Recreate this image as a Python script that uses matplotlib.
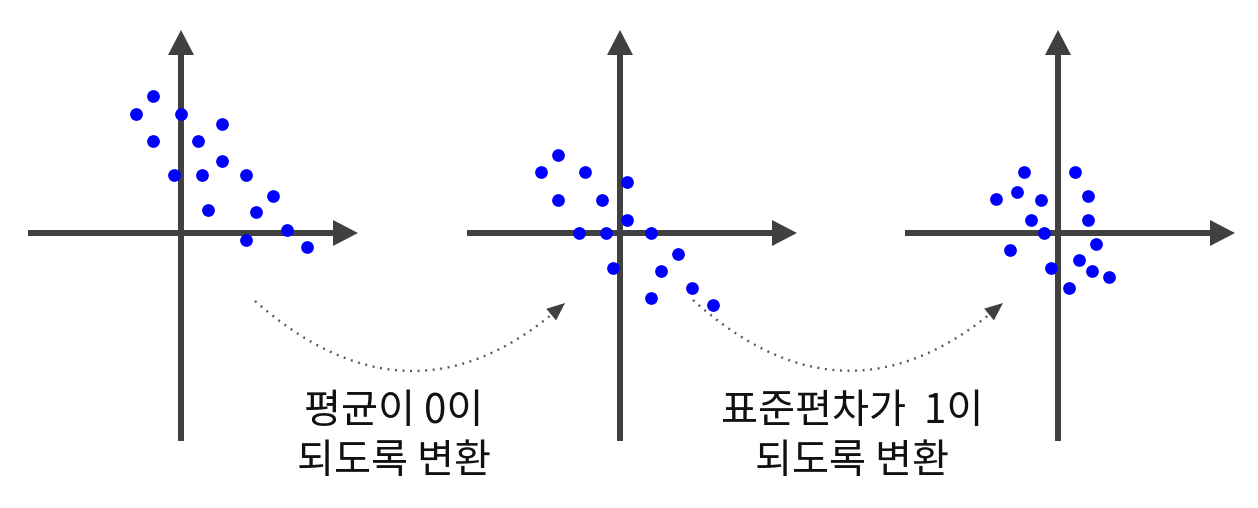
import numpy as np
import matplotlib.pyplot as plt

plt.rcParams['font.family'] = ['Noto Sans CJK KR', 'DejaVu Sans']

# 원본 데이터 (원점 기준 좌표, 1 단위 = 10px)
x_raw = [-2.8, -4.5, 0.0, 4.1, -2.8, 1.7, 4.1, -0.7, 2.1, 6.5, 9.2, 2.7, 7.5, 10.6, 6.5, 12.6]
y_raw = [13.7, 11.9, 11.9, 10.9, 9.2, 9.2, 7.2, 5.8, 5.8, 5.8, 3.7, 2.3, 2.1, 0.3, -0.7, -1.4]

# 평균이 0이 되도록 변환한 데이터
x_center = [-6.2, -7.9, -3.5, 0.7, -6.2, -1.8, 0.7, -4.1, -1.4, 3.1, 5.8, -0.7, 4.1, 7.2, 3.1, 9.3]
y_center = [7.8, 6.1, 6.1, 5.1, 3.3, 3.3, 1.3, 0.0, 0.0, 0.0, -2.1, -3.5, -3.8, -5.5, -6.5, -7.2]

# 표준편차가 1이 되도록 변환한 데이터
x_std = [-3.4, 1.7, -4.1, -6.2, -1.7, 3.0, -2.7, 3.0, -1.4, 3.8, -4.8, 2.1, -0.7, 3.4, 5.1, 1.1]
y_std = [6.1, 6.1, 4.1, 3.4, 3.3, 3.7, 1.3, 1.3, 0.0, -1.1, -1.7, -2.7, -3.5, -3.8, -4.4, -5.5]

labels = [['평균이 0이', '되도록 변환'], ['표준편차가  1이', '되도록 변환']]

W, H = 1258, 508
axis_color = '#404040'
fig = plt.figure(figsize=(W / 100, H / 100), dpi=100)

origins = [(181, 233), (620, 233), (1058, 233)]
datasets = [(x_raw, y_raw), (x_center, y_center), (x_std, y_std)]

for (ox, oy), (xs, ys) in zip(origins, datasets):
    left, right, top, bottom = ox - 160, ox + 190, 15, 455
    ax = fig.add_axes([left / W, 1 - bottom / H, (right - left) / W, (bottom - top) / H])
    ax.set_xlim((left - ox) / 10, (right - ox) / 10)
    ax.set_ylim((oy - bottom) / 10, (oy - top) / 10)
    ax.axis('off')
    # 좌표축
    ax.arrow(-15.3, 0, 33.0, 0, width=0.6, head_width=2.6, head_length=2.5,
             length_includes_head=True, color=axis_color, lw=0)
    ax.arrow(0, -20.8, 0, 41.1, width=0.6, head_width=2.6, head_length=2.5,
             length_includes_head=True, color=axis_color, lw=0)
    ax.scatter(xs, ys, s=84, color='#0000ff', zorder=3, linewidths=0)

# 점선 화살표와 설명 글
ov = fig.add_axes([0, 0, 1, 1])
ov.set_xlim(0, W)
ov.set_ylim(H, 0)
ov.axis('off')

arcs = [((255, 301), (413, 440), (565, 303)), ((693, 300), (848, 440), (1003, 303))]
t = np.linspace(0, 1, 200)
for p0, c, p2 in arcs:
    p0, c, p2 = map(np.array, (p0, c, p2))
    curve = ((1 - t) ** 2)[:, None] * p0 + (2 * (1 - t) * t)[:, None] * c + (t ** 2)[:, None] * p2
    ov.plot(curve[:-8, 0], curve[:-8, 1], color='#555555', lw=1.7,
            linestyle=(0, (0.8, 2.4)), zorder=1)
    ov.annotate('', xy=curve[-1], xytext=curve[-14],
                arrowprops=dict(arrowstyle='-|>,head_length=1.3,head_width=0.55',
                                color='#404040', lw=0, shrinkA=0, shrinkB=0))

for cx, lines in zip([394, 852], labels):
    for i, line in enumerate(lines):
        ov.text(cx, 412 + 50 * i, line, ha='center', va='center', fontsize=29, color='#111111')

fig.savefig('out.png', dpi=100)
